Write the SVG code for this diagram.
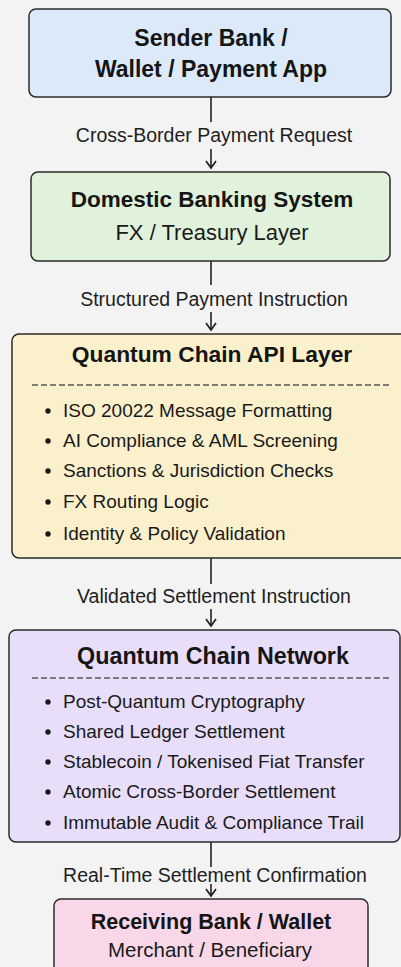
<svg xmlns="http://www.w3.org/2000/svg" width="401" height="967" viewBox="0 0 401 967">
<style>
.box{stroke:#2b2b2b;stroke-width:1.5}
.title{font-family:"Liberation Sans",Arial,sans-serif;font-weight:bold;fill:#151515;text-anchor:middle}
.sub{font-family:"Liberation Sans",Arial,sans-serif;fill:#1a1a1a;text-anchor:middle}
.lbl{font-family:"Liberation Sans",Arial,sans-serif;font-size:19.5px;fill:#1e1e1e;text-anchor:middle}
.item{font-family:"Liberation Sans",Arial,sans-serif;font-size:19px;fill:#1a1a1a}
.dash{stroke:#555;stroke-width:1.3;stroke-dasharray:6 3}
.dot{fill:#1a1a1a}
.line{stroke:#222;stroke-width:1.6;fill:none}
</style>
<defs>
<marker id="arr" viewBox="0 0 10 12" refX="8.5" refY="6" markerWidth="10" markerHeight="12" markerUnits="userSpaceOnUse" orient="auto">
<path d="M1.5,1 L8.5,6 L1.5,11" fill="none" stroke="#222" stroke-width="1.7"/>
</marker>
</defs>
<rect width="401" height="967" fill="#f3f3f3"/>

<g id="connectors">
<line class="line" x1="211" y1="97" x2="211" y2="122"/>
<text class="lbl" x="214" y="142">Cross-Border Payment Request</text>
<line class="line" x1="211" y1="149" x2="211" y2="168" marker-end="url(#arr)"/>

<line class="line" x1="211" y1="261" x2="211" y2="285"/>
<text class="lbl" x="214" y="306">Structured Payment Instruction</text>
<line class="line" x1="211" y1="312" x2="211" y2="330" marker-end="url(#arr)"/>

<line class="line" x1="211" y1="558" x2="211" y2="584"/>
<text class="lbl" x="214" y="603">Validated Settlement Instruction</text>
<line class="line" x1="211" y1="609" x2="211" y2="626" marker-end="url(#arr)"/>

<line class="line" x1="211" y1="842" x2="211" y2="867"/>
<text class="lbl" x="215" y="882">Real-Time Settlement Confirmation</text>
<line class="line" x1="211" y1="884" x2="211" y2="896" marker-end="url(#arr)"/>
</g>

<g id="sender">
<rect class="box" x="29" y="9" width="362" height="88" rx="7" fill="#dbe9f8"/>
<text class="title" x="211" y="46" font-size="23">Sender Bank /</text>
<text class="title" x="211" y="77" font-size="23">Wallet / Payment App</text>
</g>

<g id="domestic">
<rect class="box" x="31" y="172" width="359" height="89" rx="7" fill="#e0f2dc"/>
<text class="title" x="212" y="207" font-size="22.5">Domestic Banking System</text>
<text class="sub" x="212" y="240" font-size="22">FX / Treasury Layer</text>
</g>

<g id="api">
<rect class="box" x="12" y="334" width="395" height="224" rx="7" fill="#fbf0cc"/>
<text class="title" x="212" y="362" font-size="22.8">Quantum Chain API Layer</text>
<line class="dash" x1="32" y1="385" x2="390" y2="385"/>
<circle class="dot" cx="48" cy="411" r="2.7"/>
<text class="item" x="63" y="417">ISO 20022 Message Formatting</text>
<circle class="dot" cx="48" cy="441" r="2.7"/>
<text class="item" x="63" y="447">AI Compliance &amp; AML Screening</text>
<circle class="dot" cx="48" cy="471" r="2.7"/>
<text class="item" x="63" y="477">Sanctions &amp; Jurisdiction Checks</text>
<circle class="dot" cx="48" cy="502" r="2.7"/>
<text class="item" x="63" y="508">FX Routing Logic</text>
<circle class="dot" cx="48" cy="534" r="2.7"/>
<text class="item" x="63" y="540">Identity &amp; Policy Validation</text>
</g>

<g id="network">
<rect class="box" x="9" y="630" width="391" height="212" rx="7" fill="#e8defa"/>
<text class="title" x="213" y="664" font-size="23.3">Quantum Chain Network</text>
<line class="dash" x1="32" y1="678" x2="390" y2="678"/>
<circle class="dot" cx="48" cy="702" r="2.7"/>
<text class="item" x="63" y="708">Post-Quantum Cryptography</text>
<circle class="dot" cx="48" cy="732" r="2.7"/>
<text class="item" x="63" y="738">Shared Ledger Settlement</text>
<circle class="dot" cx="48" cy="762" r="2.7"/>
<text class="item" x="63" y="768">Stablecoin / Tokenised Fiat Transfer</text>
<circle class="dot" cx="48" cy="792" r="2.7"/>
<text class="item" x="63" y="798">Atomic Cross-Border Settlement</text>
<circle class="dot" cx="48" cy="823" r="2.7"/>
<text class="item" x="63" y="829">Immutable Audit &amp; Compliance Trail</text>
</g>

<g id="receiving">
<rect class="box" x="54" y="899" width="314" height="80" rx="7" fill="#f8d8e8"/>
<text class="title" x="211" y="929" font-size="21.5">Receiving Bank / Wallet</text>
<text class="sub" x="210" y="957" font-size="20.5">Merchant / Beneficiary</text>
</g>
</svg>
